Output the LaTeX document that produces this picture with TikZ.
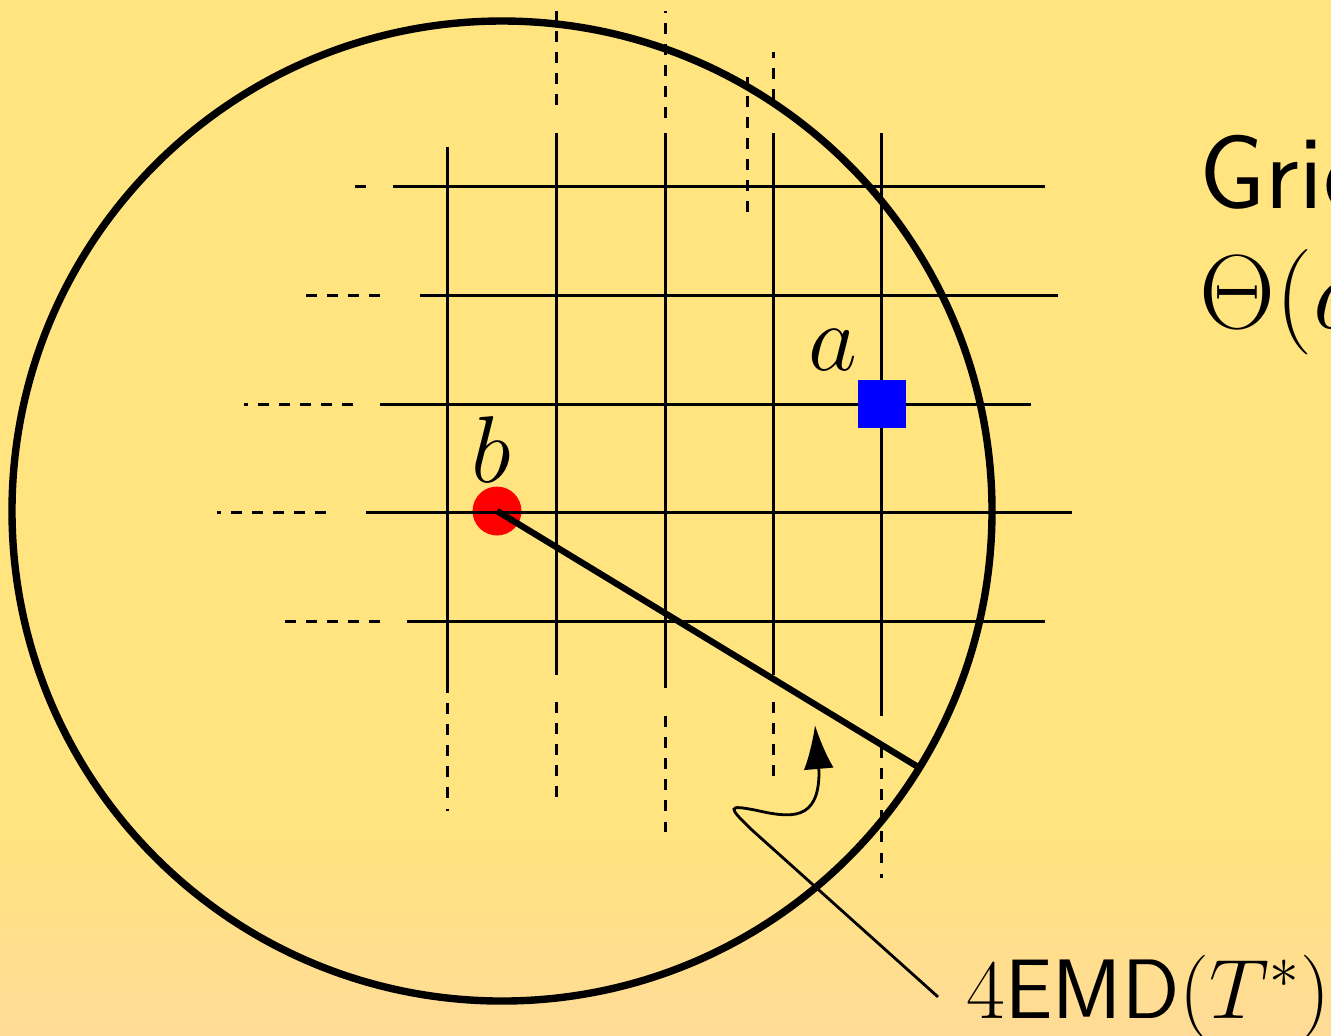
\RequirePackage{fix-cm}
\documentclass[tikz,border=0pt]{standalone}
\usetikzlibrary{arrows.meta,calc}
\definecolor{cNenVang}{HTML}{FFE47F}
\definecolor{cNenCam}{HTML}{FFDB97}
\definecolor{cDiemDo}{HTML}{FF0000}
\definecolor{cDiemXanh}{HTML}{0000FF}
\begin{document}
\begin{tikzpicture}[
  x=0.01cm, y=-0.01cm,
  luoi/.style={line width=0.85pt},
  luoinet/.style={line width=0.85pt, dashed},
  diemdo/.style={circle, fill=cDiemDo, minimum size=13.9pt, inner sep=0pt},
  vuongxanh/.style={fill=cDiemXanh, minimum size=13.7pt, inner sep=0pt},
  nhan/.style={font=\fontsize{27}{32}\selectfont, inner sep=0pt}
]

% ── Nen: vang o tren, chuyen dan sang cam o day ──
\fill[cNenVang] (0,0) rectangle (1331,1035);
\shade[top color=cNenVang, bottom color=cNenCam] (0,830) rectangle (1331,1035);
\useasboundingbox (0,0) rectangle (1331,1035);

% Diem b ve TRUOC de net luoi nam de len tren
\node[diemdo] (ptb) at (497,511) {};

% ── Luoi: net doc (lien + dut) ──
\foreach \x/\a/\b/\c/\d in {447/147/693/703/811, 556/133/675/702/797,
    665/133/688/716/833, 773/133/675/702/777, 881/133/716/747/878}{
  \draw[luoi] (\x,\a) -- (\x,\b);
  \draw[luoinet] (\x,\c) -- (\x,\d);
}
\foreach \x/\a/\b in {556/105/11, 665/118/11, 773/100/52, 747/212/77}
  \draw[luoinet] (\x,\a) -- (\x,\b);

% ── Luoi: net ngang (lien + dut ben trai) ──
\foreach \y/\a/\b/\c/\d in {186/393/1045/366/355, 295/420/1058/380/305,
    404/380/1031/353/244, 512/366/1072/326/217, 621/407/1045/380/285}{
  \draw[luoi] (\a,\y) -- (\b,\y);
  \draw[luoinet] (\c,\y) -- (\d,\y);
}

% ── Duong tron va ban kinh tu b ──
\coordinate (tam) at (502,511);
\draw[line width=2.1pt] (tam) circle[radius=490];
\draw[line width=1.8pt] (ptb.center) -- ($(tam)+(31.6:490)$);

% Diem a ve SAU nen che kin net luoi
\node[vuongxanh] (pta) at (882,404) {};
\node[nhan] (lbla) at (833,350) {$a$};
\node[nhan] (lblb) at (491,450) {$b$};

% ── Chu ben phai (bi cat o mep hinh) ──
\node[anchor=base west, inner sep=0pt, font=\sffamily\fontsize{30}{36}\selectfont]
  (tieude) at (1199,208) {Grid};
\node[anchor=base west, inner sep=0pt, font=\fontsize{30}{36}\selectfont]
  (bieuthuc) at (1199,328) {$\Theta(d$};

% ── Nhan 4EMD va mui ten cong ──
\node[anchor=base west, inner xsep=8pt, inner ysep=0pt, font=\fontsize{24}{29}\selectfont]
  (nhanemd) at (938,1018) {$4\mathsf{EMD}(T^*)$};
\draw[line width=0.8pt, -{Latex[length=12.5pt,width=8.5pt]}]
  (nhanemd.west) -- (752,830) .. controls (727,806) and (728,805) .. (755,810)
  .. controls (790,818) and (819,822) .. (819,772) -- (815,725);

\end{tikzpicture}
\end{document}
